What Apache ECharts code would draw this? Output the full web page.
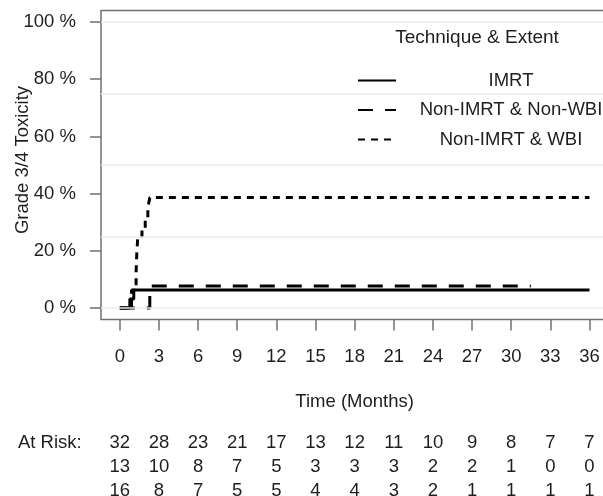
<!DOCTYPE html>
<html>
<head>
<meta charset="utf-8">
<script src="https://cdn.jsdelivr.net/npm/echarts@6/dist/echarts.min.js"></script>
<style>
html,body{margin:0;padding:0;background:#fff;}
#chart{width:603px;height:496px;}
</style>
</head>
<body>
<div id="chart"></div>
<script>
// ---- data ----
const timeTicks = [0, 3, 6, 9, 12, 15, 18, 21, 24, 27, 30, 33, 36];
const riskTicks = [0, 20, 40, 60, 80, 100];
const gridLevels = [0, 25, 50, 75, 100];

const seriesNames = ['IMRT', 'Non-IMRT & Non-WBI', 'Non-IMRT & WBI'];

const imrtTime = [0, 0.77, 1.07, 36];
const imrtRisk = [0, 3.1, 6.25, 6.25];

const nonWbiTime = [0, 2.3, 31.5];
const nonWbiRisk = [0, 7.7, 7.7];

const wbiTime = [0, 0.9, 1.25, 1.3, 1.38, 1.7, 1.95, 2.15, 2.3, 36];
const wbiRisk = [0, 6.25, 12.5, 18.75, 25, 28, 31.5, 35, 38.6, 38.6];

const atRiskIMRT = [32, 28, 23, 21, 17, 13, 12, 11, 10, 9, 8, 7, 7];
const atRiskNonWBI = [13, 10, 8, 7, 5, 3, 3, 3, 2, 2, 1, 0, 0];
const atRiskWBI = [16, 8, 7, 5, 5, 4, 4, 3, 2, 1, 1, 1, 1];

// ---- chart ----
const FONT = 'Liberation Sans, Arial, sans-serif';
const TXT = '#1e1e1e';
const AX = '#707070';
const pair = (t, v) => t.map((x, i) => [x, v[i]]);

const chart = echarts.init(document.getElementById('chart'), null, {renderer: 'canvas'});

function riskAxis(arr, offset) {
  return {
    type: 'value', gridIndex: 0, position: 'bottom', offset: offset,
    min: -1.44, max: 37.44,
    axisLine: {show: false, onZero: false}, axisTick: {show: false}, splitLine: {show: false},
    axisLabel: {
      customValues: timeTicks, margin: 0, fontSize: 18.5, fontFamily: FONT, color: TXT,
      formatter: v => String(arr[timeTicks.indexOf(v)])
    }
  };
}

const option = {
  animation: false,
  backgroundColor: '#fff',
  grid: {
    left: 101, top: 10.6, right: -5.3, bottom: 496 - 319.4,
    outerBoundsMode: 'none', containLabel: false,
    show: true, borderColor: AX, borderWidth: 1.5, backgroundColor: 'transparent'
  },
  xAxis: [
    {
      type: 'value', gridIndex: 0, min: -1.44, max: 37.44,
      axisLine: {show: false, onZero: false},
      axisTick: {show: true, customValues: timeTicks, length: 11, lineStyle: {color: AX, width: 1.5}},
      axisLabel: {customValues: timeTicks, margin: 27.6, fontSize: 18.5, fontFamily: FONT, color: TXT},
      splitLine: {show: false},
      name: 'Time (Months)', nameLocation: 'middle', nameGap: 73,
      nameTextStyle: {fontSize: 18.5, fontFamily: FONT, color: TXT}
    },
    riskAxis(atRiskIMRT, 114),
    riskAxis(atRiskNonWBI, 138),
    riskAxis(atRiskWBI, 162)
  ],
  yAxis: {
    type: 'value', min: -4, max: 104,
    axisLine: {show: false, onZero: false},
    axisTick: {show: true, customValues: riskTicks, length: 11, lineStyle: {color: AX, width: 1.5}},
    axisLabel: {customValues: riskTicks, formatter: '{value} %', margin: 25, fontSize: 18.5, fontFamily: FONT, color: TXT},
    splitLine: {show: false}
  },
  legend: {
    orient: 'vertical', left: 357, top: 71, padding: 0,
    itemWidth: 38, itemHeight: 20, itemGap: 10.5,
    data: seriesNames,
    itemStyle: {color: 'rgba(0,0,0,0)', borderWidth: 0, opacity: 0},
    formatter: n => '{c|' + n + '}',
    textStyle: {rich: {c: {width: 220, align: 'center', fontSize: 18.5, fontFamily: FONT, color: TXT}}}
  },
  graphic: [
    {type: 'text', x: 477, y: 38, style: {text: 'Technique & Extent', fill: TXT, font: '19px ' + FONT, align: 'center', verticalAlign: 'middle'}},
    {type: 'text', x: 23, y: 160, rotation: Math.PI / 2, style: {text: 'Grade 3/4 Toxicity', fill: TXT, font: '18.5px ' + FONT, align: 'center', verticalAlign: 'middle'}},
    {type: 'text', x: 18, y: 443, style: {text: 'At Risk:', fill: TXT, font: '18.5px ' + FONT, align: 'left', verticalAlign: 'middle'}}
  ],
  series: [
    {
      name: '_grid', type: 'line', data: [], z: 1, silent: true,
      markLine: {
        silent: true, symbol: ['none', 'none'], label: {show: false},
        lineStyle: {color: '#ebebeb', width: 1.5, type: 'solid'},
        data: gridLevels.map(v => ({yAxis: v}))
      }
    },
    {
      name: seriesNames[0], type: 'line', step: 'end', symbol: 'none', z: 3,
      lineStyle: {color: '#000', width: 3, type: 'solid'}, itemStyle: {color: '#000'},
      data: pair(imrtTime, imrtRisk)
    },
    {
      name: seriesNames[1], type: 'line', step: 'end', symbol: 'none', z: 3,
      lineStyle: {color: '#000', width: 3, type: [15, 12], cap: 'butt'}, itemStyle: {color: '#000'},
      data: pair(nonWbiTime, nonWbiRisk)
    },
    {
      name: seriesNames[2], type: 'line', step: 'end', symbol: 'none', z: 3,
      lineStyle: {color: '#000', width: 3, type: [7, 6], cap: 'butt'}, itemStyle: {color: '#000'},
      data: pair(wbiTime, wbiRisk)
    }
  ]
};
chart.setOption(option);
</script>
</body>
</html>
